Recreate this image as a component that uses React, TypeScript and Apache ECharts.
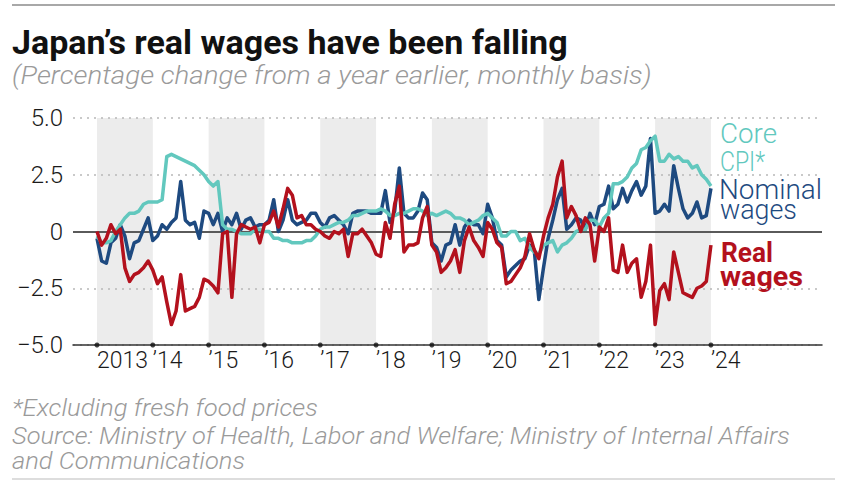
import React, { useEffect, useRef } from "react";
import * as echarts from "echarts";

// ---- Data (monthly, Jan 2013 – Jan 2024, % change y/y) ----
const START_YEAR = 2013;
const YEARS = [2013, 2014, 2015, 2016, 2017, 2018, 2019, 2020, 2021, 2022, 2023, 2024];
const YEAR_LABELS = ["2013", "\u201914", "\u201915", "\u201916", "\u201917", "\u201918", "\u201919", "\u201920", "\u201921", "\u201922", "\u201923", "\u201924"];
const SHADED_YEARS = [2013, 2015, 2017, 2019, 2021, 2023];

const coreCPI = [
  -0.2, -0.5, -0.5, -0.4, 0.0, 0.3, 0.6, 0.8, 0.8, 0.9, 1.2, 1.3,
  1.3, 1.3, 1.4, 3.3, 3.4, 3.3, 3.2, 3.1, 3.0, 2.9, 2.7, 2.5,
  2.2, 2.0, 2.2, 0.3, 0.1, 0.1, 0.0, -0.1, -0.1, -0.1, 0.1, 0.1,
  0.0, 0.0, -0.3, -0.3, -0.4, -0.4, -0.5, -0.5, -0.5, -0.4, -0.4, -0.2,
  0.1, 0.2, 0.2, 0.3, 0.4, 0.4, 0.5, 0.7, 0.7, 0.8, 0.9, 0.9,
  0.9, 1.0, 0.9, 0.7, 0.7, 0.8, 0.8, 0.9, 1.0, 1.0, 0.9, 0.7,
  0.8, 0.7, 0.8, 0.9, 0.8, 0.6, 0.6, 0.5, 0.3, 0.4, 0.5, 0.7,
  0.8, 0.6, 0.4, -0.2, -0.2, 0.0, 0.0, -0.4, -0.3, -0.7, -0.9, -1.0,
  -0.6, -0.5, -0.4, -0.9, -0.6, -0.5, -0.3, 0.0, 0.1, 0.1, 0.5, 0.5,
  0.2, 0.6, 0.8, 2.1, 2.1, 2.2, 2.4, 2.8, 3.0, 3.6, 3.7, 4.0,
  4.2, 3.1, 3.1, 3.4, 3.2, 3.3, 3.1, 3.1, 2.8, 2.9, 2.5, 2.3,
  2.0,
];

const nominalWages = [
  -0.3, -1.3, -1.4, -0.5, -0.3, 0.3, -0.2, -1.2, -0.5, -0.4, 0.1, 0.6,
  -0.4, -0.2, 0.3, 0.1, 0.4, 0.6, 2.2, 0.5, 0.3, 0.4, -0.3, 0.9,
  0.8, 0.3, 0.8, 0.0, 0.6, 0.3, 0.8, 0.1, 0.5, 0.6, 0.2, 0.3,
  0.3, 0.5, 1.4, 0.0, 0.5, 1.4, 0.5, 0.3, 0.4, 0.5, 0.8, 0.8,
  0.4, 0.2, 0.6, 0.7, 0.5, 0.3, -0.1, 0.8, 0.9, 0.9, 0.9, 0.8,
  0.8, 0.8, 1.8, 0.4, 0.9, 2.8, 0.8, 0.6, 0.6, 0.9, 1.7, 1.4,
  -0.5, -0.7, -1.3, -0.6, -0.5, 0.3, -0.6, 0.2, 0.5, 0.3, 0.3, -0.1,
  1.2, 0.6, -0.4, -0.6, -2.0, -1.7, -1.5, -1.3, -1.2, -0.6, -0.8, -3.0,
  -1.6, -0.3, 0.5, 1.4, 1.9, 0.1, 0.3, 0.6, 0.5, 0.1, 0.8, 0.3,
  1.1, 1.2, 2.0, 1.0, 1.2, 1.9, 1.3, 1.8, 2.2, 1.6, 2.0, 4.1,
  0.8, 0.9, 1.2, 0.9, 2.9, 1.9, 1.0, 0.6, 0.8, 1.3, 0.6, 0.7,
  1.9,
];

const realWages = [
  0.0, -0.6, -0.3, 0.3, -0.1, 0.1, -1.6, -2.2, -1.9, -1.8, -1.6, -1.3,
  -1.7, -2.3, -2.0, -3.1, -4.1, -3.5, -1.9, -3.5, -3.4, -3.3, -2.9, -2.1,
  -2.2, -2.4, -2.7, -0.1, 0.0, -2.9, -0.1, 0.3, 0.2, 0.1, 0.2, -0.5,
  0.3, 0.4, 0.9, 0.2, 1.0, 1.9, 1.6, 0.6, 0.7, 0.3, 0.3, 0.1,
  0.0, -0.2, -0.3, 0.0, -0.1, 0.1, -1.1, -0.1, -0.1, 0.1, -0.2, -0.5,
  -1.0, -1.1, 0.4, -0.3, 1.2, 2.0, -0.9, -0.6, -0.6, -0.5, 0.6, 1.1,
  -0.6, -0.9, -1.8, -1.6, -1.3, -0.8, -1.8, -0.4, 0.2, -0.4, -0.7, -1.1,
  0.4, 0.1, -0.5, -0.7, -2.3, -2.2, -1.9, -1.6, -1.1, -0.1, -0.8, -1.2,
  -0.2, 0.6, 1.2, 2.4, 3.1, 0.6, 1.1, 0.7, 0.0, 0.6, 0.3, -1.3,
  0.2, 0.0, 0.6, -1.7, -1.8, -0.6, -1.8, -1.4, -1.2, -2.9, -2.2, -0.6,
  -4.1, -2.6, -2.3, -3.0, -0.9, -1.8, -2.7, -2.8, -2.9, -2.5, -2.4, -2.2,
  -0.6,
];

const TITLE = "Japan\u2019s real wages have been falling";
const SUBTITLE = "(Percentage change from a year earlier, monthly basis)";
const NOTE = "*Excluding fresh food prices";
const SOURCE_1 = "Source: Ministry of Health, Labor and Welfare; Ministry of Internal Affairs";
const SOURCE_2 = "and Communications";

const TEAL = "#62c8be";
const NAVY = "#1e4a80";
const RED = "#b3111d";

const toXY = (arr: number[]) => arr.map((v, i) => [START_YEAR + i / 12, v]);

function fitScale(text: string, font: string, target: number): number {
  try {
    const ctx = document.createElement("canvas").getContext("2d");
    if (!ctx) return 1;
    ctx.font = font;
    const w = ctx.measureText(text).width;
    return w > 0 ? target / w : 1;
  } catch (e) {
    return 1;
  }
}

function fittedText(text: string, x: number, y: number, font: string, fill: string, width: number) {
  return {
    type: "text",
    x,
    y,
    scaleX: fitScale(text, font, width),
    silent: true,
    style: {
      text,
      font,
      fill,
      align: "left",
      textAlign: "left",
      verticalAlign: "middle",
      textVerticalAlign: "middle",
    },
  };
}

export default function App() {
  const ref = useRef<HTMLDivElement>(null);

  useEffect(() => {
    if (!ref.current) return;
    const chart = echarts.init(ref.current, undefined, { renderer: "svg" });

    const TITLE_FONT = "bold 34px Roboto";
    const SUB_FONT = "italic 300 25px Roboto";
    const NOTE_FONT = "italic 300 23px Roboto";
    const LABEL_FONT = "300 28px Roboto";
    const LABEL_BOLD = "bold 28px Roboto";

    const option: any = {
      animation: false,
      backgroundColor: "#ffffff",
      grid: { left: 73, right: 25, top: 118, bottom: 138, containLabel: false },
      xAxis: {
        type: "value",
        min: 2012.57,
        max: 2025.99,
        splitLine: { show: false },
        axisTick: { show: false },
        axisLine: { show: true, onZero: false, lineStyle: { color: "#333", width: 1.5 } },
        axisLabel: {
          customValues: YEARS,
          formatter: (v: number) => YEAR_LABELS[YEARS.indexOf(Math.round(v))] ?? "",
          align: "left",
          margin: 4,
          fontSize: 23,
          fontWeight: 300,
          fontFamily: "Roboto",
          color: "#1a1a1a",
        },
      },
      yAxis: {
        type: "value",
        min: -5,
        max: 5,
        interval: 2.5,
        axisLine: { show: false },
        axisTick: { show: false },
        axisLabel: {
          formatter: (v: number) => (v === 0 ? "0" : (v < 0 ? "\u2212" : "") + Math.abs(v).toFixed(1)),
          margin: 10,
          fontSize: 24,
          fontWeight: 300,
          fontFamily: "Roboto",
          color: "#1a1a1a",
        },
        splitLine: { show: true, lineStyle: { type: [2, 5], color: "#b8b8b8", width: 1.5 } },
      },
      series: [
        {
          name: "bands",
          type: "line",
          data: [[START_YEAR, 0]],
          symbol: "none",
          lineStyle: { opacity: 0 },
          silent: true,
          z: 0,
          markArea: {
            z: -1,
            silent: true,
            itemStyle: { color: "#ececec" },
            data: SHADED_YEARS.map((y) => [{ xAxis: y }, { xAxis: y + 1 }]),
          },
          markLine: {
            z: 1,
            silent: true,
            symbol: "none",
            label: { show: false },
            lineStyle: { color: "#5a5a5a", type: "solid", width: 2 },
            data: [{ yAxis: 0 }],
          },
        },
        {
          name: "Nominal wages",
          type: "line",
          data: toXY(nominalWages),
          showSymbol: false,
          symbol: "none",
          z: 3,
          lineStyle: { color: NAVY, width: 3.5, join: "round" },
        },
        {
          name: "Core CPI*",
          type: "line",
          data: toXY(coreCPI),
          showSymbol: false,
          symbol: "none",
          z: 4,
          lineStyle: { color: TEAL, width: 3.5, join: "round" },
        },
        {
          name: "Real wages",
          type: "line",
          data: toXY(realWages),
          showSymbol: false,
          symbol: "none",
          z: 5,
          lineStyle: { color: RED, width: 3.5, join: "round" },
        },
        {
          name: "ticks",
          type: "scatter",
          data: YEARS.map((y) => [y, -5]),
          symbol: "circle",
          symbolSize: 5,
          itemStyle: { color: "#111" },
          silent: true,
          clip: false,
          z: 10,
        },
      ],
      graphic: [
        { type: "line", silent: true, shape: { x1: 12, y1: 5, x2: 835, y2: 5 }, style: { stroke: "#a8a8a8", lineWidth: 2 } },
        { type: "line", silent: true, shape: { x1: 12, y1: 479, x2: 835, y2: 479 }, style: { stroke: "#dddddd", lineWidth: 2 } },
        fittedText(TITLE, 12, 42, TITLE_FONT, "#111111", 556),
        fittedText(SUBTITLE, 12, 75, SUB_FONT, "#9a9a9a", 640),
        fittedText(NOTE, 12, 408, NOTE_FONT, "#9a9a9a", 306),
        fittedText(SOURCE_1, 12, 436, NOTE_FONT, "#9a9a9a", 778),
        fittedText(SOURCE_2, 12, 461, NOTE_FONT, "#9a9a9a", 233),
        fittedText("Core", 720, 133, LABEL_FONT, TEAL, 57),
        fittedText("CPI*", 720, 161, LABEL_FONT, TEAL, 45),
        fittedText("Nominal", 719, 189, LABEL_FONT, NAVY, 103),
        fittedText("wages", 720, 210, LABEL_FONT, NAVY, 77),
        fittedText("Real", 721, 253, LABEL_BOLD, RED, 52),
        fittedText("wages", 720, 277, LABEL_BOLD, RED, 83),
      ],
    };

    chart.setOption(option);
    return () => chart.dispose();
  }, []);

  return (
    <div
      ref={ref}
      style={{ position: "fixed", left: 0, top: 0, width: 847, height: 483, background: "#fff" }}
    />
  );
}
